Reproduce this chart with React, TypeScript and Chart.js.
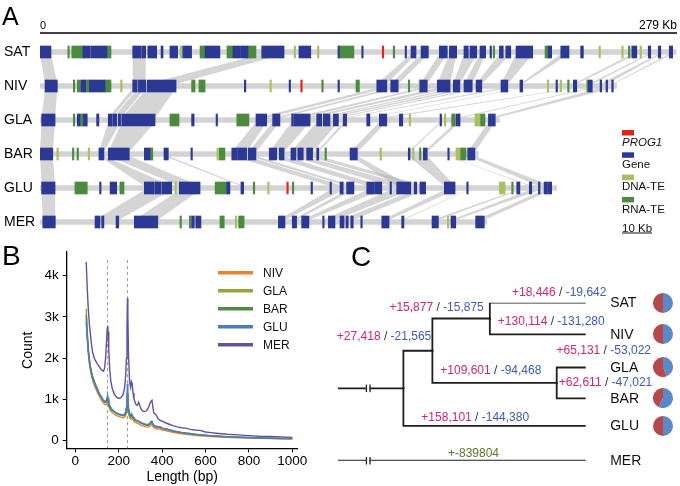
import React, { useEffect, useRef } from "react";
import { Chart, registerables } from "chart.js";

Chart.register(...registerables);

const FONT = "'Liberation Sans', Arial, Helvetica, sans-serif";

// ================= Panel A data =================
const trackNames = ["SAT", "NIV", "GLA", "BAR", "GLU", "MER"];
const trackEndKb = [278.6, 252.6, 201.2, 192.0, 226.3, 195.7];
const axisEndKb = 279;
const axisLabels = ["0", "279 Kb"];
const scaleBarLabel = "10 Kb";

type Seg = [number, number];
type Link = [number, number, number, number];

const geneSAT: Seg[] = [[0, 4.8], [18.8, 21.9], [22.2, 29.3], [40.6, 42.4], [42.6, 44.1], [44.5, 46.3], [47.2, 51.1], [53, 53.9], [56.9, 60.3], [62.5, 66.4], [72.3, 78.8], [84.5, 87.6], [87.8, 91.1], [97.1, 106.9], [113.4, 118.6], [130.5, 131], [140.9, 141.4], [159.9, 160.4], [162.5, 164.7], [166.9, 170.1], [174.9, 178.4], [179.3, 182.5], [185.7, 187.6], [188.3, 191.3], [192.7, 195.2], [197.1, 197.6], [201.2, 202.9], [204, 206.2], [208.5, 215.8], [222.6, 224.1], [228.1, 231.7], [236.8, 238], [259.2, 261.4], [266.4, 267.5], [270.8, 271.9], [275.6, 277.1]];
const dnaSAT: Seg[] = [[61.3, 62.1], [111.3, 111.8], [121.5, 122], [244.8, 245.3], [254.8, 255.3], [262.8, 263.3]];
const rnaSAT: Seg[] = [[12.2, 12.6], [13.9, 18.8], [29.3, 31.1], [70.1, 72.3], [81.9, 84.5], [91.1, 94.6], [131, 137.5], [154.7, 155.2], [198.5, 199], [221.2, 222.6], [257.7, 258.4]];
const progSAT: Seg[] = [[149.9, 150.5]];

const geneNIV: Seg[] = [[2.2, 7.6], [17.8, 20], [21.6, 28.5], [40.6, 42.6], [43.1, 46.3], [46.9, 59.6], [89.5, 89.9], [109.1, 109.5], [130.5, 131], [147.5, 151.9], [153.6, 156.9], [166.4, 169.6], [174, 179.6], [181, 183.9], [185.7, 189.3], [191, 193.5], [201.9, 204.9], [210.2, 211.4], [226, 226.4], [233.6, 235.1], [240.2, 241.9], [245.3, 246], [247.9, 248.6], [250.4, 251.1]];
const dnaNIV: Seg[] = [[35.3, 35.8], [100.7, 101.1], [166, 166.4], [222.2, 222.6], [227.8, 228.2]];
const rnaNIV: Seg[] = [[14.6, 15], [16.3, 17.5], [20, 21.6], [28.5, 31.1], [66.4, 67.9], [69.6, 72.3], [123.4, 123.8], [138.4, 139.9], [161.3, 161.8], [231.1, 231.6], [239.5, 240.2]];
const progNIV: Seg[] = [[114.2, 114.6]];

const geneGLA: Seg[] = [[0.7, 6.6], [16.3, 17.5], [19, 20.7], [24.8, 25.8], [29.9, 31.4], [31.8, 33.6], [34.3, 35.3], [35.8, 50.4], [66.4, 67.5], [77.1, 77.5], [94.6, 99.3], [101.9, 105.1], [110.2, 110.8], [111.1, 114.6], [114.9, 118.3], [121.2, 123.4], [124.1, 127], [128.5, 130.7], [132.8, 134.3], [143.1, 144.5], [148.6, 151.9], [157.4, 158.9], [175.2, 175.9], [182.2, 184], [196.4, 197.8], [198.1, 199.4]];
const dnaGLA: Seg[] = [[161.7, 162.1], [177.1, 177.5], [190.5, 192.7]];
const rnaGLA: Seg[] = [[14.6, 15], [17.5, 19], [56.9, 60.9], [86.2, 91.5], [180.3, 181.8], [192.7, 194.9]];
const progGLA: Seg[] = [];

const geneBAR: Seg[] = [[0, 5.6], [25.8, 28], [29.9, 39.1], [45.7, 48.2], [54.3, 56.2], [66.1, 66.5], [84, 86.2], [86.5, 90.5], [91.2, 94.6], [100.4, 103.7], [104.8, 106.9], [109.9, 112.1], [112.9, 115.3], [116.8, 119.4], [121.2, 122.1], [135.8, 139], [161.3, 162.1], [167.9, 169.6], [178.6, 179], [187.3, 190.5]];
const dnaBAR: Seg[] = [[7.4, 7.8], [21.1, 21.5], [77.5, 77.9], [148.9, 149.3], [163.2, 163.6], [182.2, 184]];
const rnaBAR: Seg[] = [[14.2, 14.6], [16.2, 16.6], [48.2, 49.4], [78.5, 81], [124.8, 125.2], [166.2, 166.6], [184, 186.6]];
const progBAR: Seg[] = [];

const geneGLU: Seg[] = [[0.7, 6.6], [26.1, 26.5], [30.7, 33.6], [45.7, 49.8], [50.2, 53], [53.4, 57.7], [61, 70.1], [81.8, 83.2], [88, 89.2], [118.7, 119.1], [127, 127.4], [131.4, 132.8], [134.3, 137.5], [143.1, 146.2], [146.5, 149.7], [153.3, 153.7], [156.2, 162.4], [163.9, 165], [166.4, 168.9], [177.1, 181.8], [186.9, 187.3], [208.8, 210.2], [214.3, 215.4], [218.3, 219], [220.8, 222.3], [222.6, 224.1]];
const dnaGLU: Seg[] = [[59.1, 59.6], [99.7, 100.1], [201.2, 203.7]];
const rnaGLU: Seg[] = [[15.3, 20.7], [35, 36.8], [76.7, 81.8], [93.4, 93.8], [110.5, 110.9], [206.6, 207]];
const progGLU: Seg[] = [[108.1, 108.5]];

const geneMER: Seg[] = [[1.2, 6.7], [24.1, 26.3], [27, 28], [33.3, 34.5], [41.3, 51.6], [66.4, 67.6], [68.2, 70.5], [104.4, 107.3], [110.5, 112.4], [114.6, 117.8], [123.8, 124.2], [126.3, 129.2], [131.4, 133.2], [134, 135], [136.1, 137.2], [140.5, 140.9], [149.7, 152.9], [158.4, 159.4], [171.7, 174.5], [180, 182.1], [190.8, 194.6]];
const dnaMER: Seg[] = [[85.5, 85.9], [178.4, 178.8]];
const rnaMER: Seg[] = [[61.3, 61.7], [65.4, 66.1], [78.8, 80.7], [87, 89.4]];
const progMER: Seg[] = [];

// synteny links between neighbouring tracks: [upperStart, upperEnd, lowerStart, lowerEnd] (Kb)
const linksSATtoNIV: Link[] = [[0, 4.8, 2.2, 7.6], [40.6, 46.3, 40.6, 46.3], [97.1, 106.9, 46.9, 59.6], [162.5, 164.7, 147.5, 151.9], [166.9, 170.1, 153.6, 156.9], [174.9, 178.4, 166.4, 169.6], [179.3, 182.5, 174, 179.6], [185.7, 191.3, 181, 183.9], [192.7, 195.2, 185.7, 189.3], [201.2, 206.2, 191, 193.5], [208.5, 215.8, 201.9, 204.9], [228.1, 231.7, 210.2, 211.4], [259.2, 261.4, 233.6, 235.1], [266.4, 267.5, 240.2, 241.9], [270.8, 271.9, 245.3, 248.6], [275.6, 277.1, 250.4, 251.1]];
const linksNIVtoGLA: Link[] = [[2.2, 7.6, 0.7, 6.6], [40.6, 42.6, 29.9, 31.4], [43.1, 46.3, 31.8, 35.3], [46.9, 59.6, 35.8, 50.4], [147.5, 151.9, 94.6, 99.3], [153.6, 156.9, 101.9, 105.1], [166.4, 169.6, 110.2, 114.6], [174, 179.6, 114.9, 118.3], [181, 183.9, 121.2, 123.4], [185.7, 189.3, 124.1, 127], [191, 193.5, 128.5, 130.7], [201.9, 204.9, 132.8, 134.3], [210.2, 211.4, 143.1, 144.5], [233.6, 235.1, 148.6, 151.9], [240.2, 241.9, 182.2, 184], [245.3, 251.1, 196.4, 199.4]];
const linksGLAtoBAR: Link[] = [[0.7, 6.6, 0, 5.6], [29.9, 35.3, 25.8, 28], [35.8, 50.4, 29.9, 39.1], [94.6, 99.3, 84, 90.5], [101.9, 105.1, 91.2, 94.6], [110.2, 118.3, 100.4, 106.9], [121.2, 130.7, 109.9, 119.4], [132.8, 134.3, 121.2, 122.1], [148.6, 151.9, 135.8, 139], [175.2, 175.9, 161.3, 162.1], [182.2, 184, 167.9, 169.6], [196.4, 199.4, 187.3, 190.5]];
const linksBARtoGLU: Link[] = [[0, 5.6, 0.7, 6.6], [25.8, 28, 45.7, 57.7], [29.9, 39.1, 61, 70.1], [54.3, 56.2, 88, 89.2], [84, 90.5, 127, 132.8], [91.2, 94.6, 134.3, 137.5], [100.4, 106.9, 143.1, 149.7], [109.9, 115.3, 153.3, 162.4], [116.8, 122.1, 163.9, 168.9], [135.8, 139, 156.2, 162.4], [161.3, 169.6, 177.1, 181.8], [178.6, 179, 214.3, 215.4], [187.3, 190.5, 218.3, 224.1]];
const linksGLUtoMER: Link[] = [[0.7, 6.6, 1.2, 6.7], [45.7, 57.7, 24.1, 34.5], [61, 70.1, 41.3, 51.6], [127, 132.8, 104.4, 107.3], [134.3, 137.5, 110.5, 112.4], [143.1, 149.7, 114.6, 117.8], [153.3, 162.4, 123.8, 129.2], [163.9, 168.9, 131.4, 137.2], [177.1, 181.8, 149.7, 152.9], [186.9, 187.3, 158.4, 159.4], [208.8, 210.2, 171.7, 174.5], [214.3, 219, 180, 182.1], [220.8, 224.1, 190.8, 194.6]];

const geneTracks = [geneSAT, geneNIV, geneGLA, geneBAR, geneGLU, geneMER];
const dnaTracks = [dnaSAT, dnaNIV, dnaGLA, dnaBAR, dnaGLU, dnaMER];
const rnaTracks = [rnaSAT, rnaNIV, rnaGLA, rnaBAR, rnaGLU, rnaMER];
const progTracks = [progSAT, progNIV, progGLA, progBAR, progGLU, progMER];
const linkSets = [linksSATtoNIV, linksNIVtoGLA, linksGLAtoBAR, linksBARtoGLU, linksGLUtoMER];

// ================= Panel B data =================
const seriesNames = ["NIV", "GLA", "BAR", "GLU", "MER"];
const lengthBp = [50, 55, 60, 65, 70, 75, 80, 90, 100, 110, 120, 130, 135, 140, 144, 147, 149, 151, 154, 158, 163, 170, 180, 190, 200, 210, 220, 227, 232, 235, 238, 240, 242, 245, 250, 255, 258, 262, 266, 270, 278, 285, 292, 298, 305, 315, 325, 335, 342, 348, 353, 357, 362, 368, 374, 380, 390, 400, 415, 430, 450, 470, 490, 510, 530, 550, 575, 600, 625, 650, 700, 750, 800, 850, 900, 950, 1000];
const countNIV = [2950, 2480, 2100, 1850, 1680, 1550, 1450, 1310, 1180, 1070, 980, 900, 875, 865, 880, 900, 905, 880, 830, 770, 720, 680, 640, 605, 585, 565, 550, 565, 600, 680, 830, 1000, 850, 660, 555, 520, 550, 535, 500, 470, 435, 415, 405, 385, 365, 350, 330, 325, 340, 375, 385, 345, 310, 295, 285, 275, 280, 255, 240, 222, 195, 178, 162, 150, 140, 128, 115, 105, 97, 88, 75, 66, 57, 50, 45, 41, 38];
const countGLA = [3200, 2620, 2220, 1960, 1780, 1650, 1550, 1400, 1270, 1150, 1060, 970, 940, 925, 960, 1000, 1010, 980, 905, 835, 785, 735, 695, 660, 635, 620, 605, 620, 665, 755, 920, 1120, 940, 735, 615, 580, 615, 600, 560, 530, 490, 470, 458, 438, 418, 398, 378, 372, 392, 430, 445, 398, 358, 338, 328, 318, 335, 298, 278, 258, 228, 208, 190, 174, 164, 150, 135, 124, 114, 104, 89, 79, 69, 60, 54, 49, 45];
const countBAR = [3050, 2550, 2180, 1930, 1760, 1630, 1530, 1390, 1260, 1140, 1050, 960, 930, 920, 950, 990, 1000, 970, 900, 830, 780, 730, 690, 655, 630, 615, 600, 615, 660, 750, 930, 1150, 950, 740, 610, 575, 610, 595, 555, 525, 485, 465, 455, 435, 415, 395, 375, 370, 390, 425, 440, 395, 355, 335, 325, 315, 330, 295, 275, 255, 225, 205, 188, 172, 162, 148, 133, 122, 112, 102, 88, 78, 68, 59, 53, 48, 44];
const countGLU = [2880, 2450, 2120, 1880, 1720, 1600, 1500, 1360, 1240, 1130, 1040, 970, 950, 950, 1000, 1060, 1080, 1030, 950, 860, 800, 750, 700, 670, 645, 630, 615, 640, 700, 800, 1050, 1380, 1100, 800, 640, 600, 650, 620, 570, 540, 500, 480, 470, 450, 430, 410, 395, 390, 410, 460, 470, 410, 370, 350, 345, 330, 315, 300, 285, 265, 235, 215, 195, 180, 170, 155, 140, 128, 118, 108, 93, 82, 72, 62, 56, 51, 47];
const countMER = [4330, 3650, 3150, 2800, 2550, 2300, 2120, 1960, 1870, 1790, 1710, 1680, 1760, 2050, 2450, 2730, 2790, 2640, 2200, 1760, 1460, 1260, 1120, 1050, 1020, 1040, 1110, 1280, 1580, 1980, 2750, 3450, 3050, 2050, 1420, 1290, 1430, 1380, 1150, 1010, 880, 850, 930, 830, 740, 700, 710, 770, 870, 950, 975, 820, 660, 640, 610, 530, 490, 470, 430, 400, 360, 330, 310, 300, 270, 255, 245, 205, 190, 175, 150, 135, 118, 102, 96, 86, 76];
const seriesValues = [countNIV, countGLA, countBAR, countGLU, countMER];
const xTickValues = [0, 200, 400, 600, 800, 1000];
const yTickValues = [0, 1000, 2000, 3000, 4000];
const yTickLabels = ["0", "1k", "2k", "3k", "4k"];
const markerLengths = [148, 240];

// ================= Panel C data =================
const treeNodes = ["root", "n1", "n2", "nSN", "nGB", "SAT", "NIV", "GLA", "BAR", "GLU", "MER"];
const treeParent = [-1, 0, 1, 2, 2, 3, 3, 4, 4, 1, 0];
const treeDepth = [0, 26.4, 38.1, 61.3, 88.3, 100, 100, 100, 100, 100, 100];
const leafNames = ["SAT", "NIV", "GLA", "BAR", "GLU", "MER"];
const branchOf = ["n2", "nSN", "nGB", "SAT", "NIV", "GLA", "BAR", "GLU"];
const branchGain = [27418, 15877, 109601, 18446, 130114, 65131, 62611, 158101];
const branchLoss = [21565, 15875, 94468, 19642, 131280, 53022, 47021, 144380];
const merLabel = "+-839804";
const pieLeaves = ["SAT", "NIV", "GLA", "BAR", "GLU"];
const pieBlue = [50, 50, 44, 57, 50];
const pieRed = [50, 50, 56, 43, 50];

// ================= Layout (not data) =================
const leafRow = [0, 1, 2.05, 3.03, 3.9, 5];
const branchLabelAt: [number, number][] = [[18.6, 1.08], [39.8, 0.17], [61.7, 2.15], [89.3, -0.32], [86.1, 0.61], [107.3, 1.53], [108, 2.52], [55.4, 3.64]];
const merLabelAt: [number, number] = [54.7, 4.77];
const breakAtDepth = 12.2;
const C_TOP = 240, C_LEFT = 330;
const C_ROW0 = 302.7, C_ROWH = 31.6;

const GENE = "#2b3995";
const DNA = "#a9c060";
const RNA = "#4c8a40";
const PROG = "#e0231f";
const LINE_COLORS = ["#e8822c", "#93a83a", "#4f8c42", "#4a7dc4", "#6650a2"];
const GAIN = "#d4246c";
const LOSS = "#3d5cb3";

function toBars(perTrack: Seg[][]) {
  const out: any[] = [];
  perTrack.forEach((segs, i) => segs.forEach((s) => out.push({ x: s, y: trackNames[i] })));
  return out;
}

const panelAPlugin = {
  id: "panelA",
  beforeDatasetsDraw(chart: any) {
    const { ctx, scales } = chart;
    const x = scales.x, y = scales.y;
    ctx.save();
    ctx.fillStyle = "rgba(178,178,178,0.55)";
    linkSets.forEach((links, i) => {
      const yU = y.getPixelForValue(i) + 2;
      const yL = y.getPixelForValue(i + 1) - 2;
      links.forEach(([a0, a1, b0, b1]) => {
        ctx.beginPath();
        ctx.moveTo(x.getPixelForValue(a0), yU);
        ctx.lineTo(x.getPixelForValue(a1), yU);
        ctx.lineTo(x.getPixelForValue(b1), yL);
        ctx.lineTo(x.getPixelForValue(b0), yL);
        ctx.closePath();
        ctx.fill();
      });
    });
    ctx.restore();
  },
  afterDraw(chart: any) {
    const { ctx, scales } = chart;
    const x = scales.x, y = scales.y;
    ctx.save();
    ctx.fillStyle = "#000";
    ctx.font = `25px ${FONT}`;
    ctx.textBaseline = "alphabetic";
    ctx.textAlign = "left";
    ctx.fillText("A", 2, 25);
    ctx.strokeStyle = "#000";
    ctx.lineWidth = 1.5;
    ctx.beginPath();
    ctx.moveTo(x.getPixelForValue(0), 33);
    ctx.lineTo(x.getPixelForValue(axisEndKb), 33);
    ctx.stroke();
    ctx.font = `11px ${FONT}`;
    ctx.fillText(axisLabels[0], x.getPixelForValue(0), 29);
    ctx.textAlign = "right";
    ctx.font = `12px ${FONT}`;
    ctx.fillText(axisLabels[1], x.getPixelForValue(axisEndKb), 29);
    ctx.textAlign = "left";
    ctx.textBaseline = "middle";
    ctx.font = `14px ${FONT}`;
    trackNames.forEach((n, i) => ctx.fillText(n, 4, y.getPixelForValue(i) + 0.5));
    const lx = 622;
    chart.data.datasets.slice(0, 4).forEach((ds: any, k: number) => {
      const top = 130 + k * 22.3;
      ctx.fillStyle = ds.backgroundColor;
      ctx.fillRect(lx, top, 12, 5.5);
      ctx.fillStyle = "#111";
      ctx.font = `${k === 0 ? "italic " : ""}11.5px ${FONT}`;
      ctx.fillText(ds.label, lx, top + 12.5);
    });
    ctx.font = `11.5px ${FONT}`;
    ctx.fillText(scaleBarLabel, lx, 228.5);
    const w = ctx.measureText(scaleBarLabel).width;
    ctx.strokeStyle = "#111";
    ctx.lineWidth = 1;
    ctx.beginPath();
    ctx.moveTo(lx, 233);
    ctx.lineTo(lx + w, 233);
    ctx.stroke();
    ctx.restore();
  },
};

const panelBPlugin = {
  id: "panelB",
  beforeDatasetsDraw(chart: any) {
    const { ctx, scales, chartArea } = chart;
    ctx.save();
    ctx.strokeStyle = "#9a9a9a";
    ctx.lineWidth = 1;
    ctx.setLineDash([3, 3]);
    markerLengths.forEach((v) => {
      const px = Math.round(scales.x.getPixelForValue(v)) + 0.5;
      ctx.beginPath();
      ctx.moveTo(px, chartArea.top + 8);
      ctx.lineTo(px, chartArea.bottom);
      ctx.stroke();
    });
    ctx.restore();
  },
  afterDraw(chart: any) {
    const { ctx } = chart;
    ctx.save();
    ctx.fillStyle = "#000";
    ctx.font = `28px ${FONT}`;
    ctx.textBaseline = "alphabetic";
    ctx.fillText("B", 2, 25);
    chart.data.datasets.forEach((ds: any, k: number) => {
      const yy = 32.7 + k * 18;
      ctx.strokeStyle = ds.borderColor;
      ctx.lineWidth = 3.5;
      ctx.beginPath();
      ctx.moveTo(218, yy);
      ctx.lineTo(253, yy);
      ctx.stroke();
      ctx.fillStyle = "#111";
      ctx.font = `12px ${FONT}`;
      ctx.textBaseline = "middle";
      ctx.fillText(ds.label, 263, yy + 0.5);
    });
    ctx.restore();
  },
};

function nodeRows() {
  const rows: number[] = new Array(treeNodes.length).fill(NaN);
  leafNames.forEach((n, i) => (rows[treeNodes.indexOf(n)] = leafRow[i]));
  for (let i = treeNodes.length - 1; i >= 0; i--) {
    if (!isNaN(rows[i])) continue;
    const kids = treeParent.map((p, j) => (p === i ? rows[j] : NaN)).filter((v) => !isNaN(v));
    rows[i] = kids.reduce((a, b) => a + b, 0) / kids.length;
  }
  return rows;
}

function drawSplitLabel(ctx: any, cx: number, cy: number, gain: number, loss: number) {
  const g = "+" + gain.toLocaleString("en-US");
  const s = " / ";
  const l = "-" + loss.toLocaleString("en-US");
  const wg = ctx.measureText(g).width, ws = ctx.measureText(s).width, wl = ctx.measureText(l).width;
  let x0 = cx - (wg + ws + wl) / 2;
  ctx.fillStyle = GAIN; ctx.fillText(g, x0, cy); x0 += wg;
  ctx.fillStyle = "#333"; ctx.fillText(s, x0, cy); x0 += ws;
  ctx.fillStyle = LOSS; ctx.fillText(l, x0, cy);
}

const panelCPlugin = {
  id: "panelC",
  afterDatasetsDraw(chart: any) {
    const { ctx, scales } = chart;
    const x = scales.x, y = scales.y;
    const rows = nodeRows();
    ctx.save();
    [treeNodes.indexOf("n1"), treeNodes.indexOf("MER")].forEach((ni) => {
      const px = x.getPixelForValue(breakAtDepth);
      const py = y.getPixelForValue(rows[ni]);
      ctx.fillStyle = "#fff";
      ctx.fillRect(px - 1.2, py - 2, 2.4, 4);
      ctx.strokeStyle = "#222";
      ctx.lineWidth = 1.3;
      [-1.8, 1.8].forEach((d) => {
        ctx.beginPath();
        ctx.moveTo(px + d, py - 3.8);
        ctx.lineTo(px + d, py + 3.8);
        ctx.stroke();
      });
    });
    ctx.textBaseline = "middle";
    ctx.textAlign = "left";
    ctx.font = `14px ${FONT}`;
    ctx.fillStyle = "#111";
    leafNames.forEach((n, i) => ctx.fillText(n, x.getPixelForValue(100) + 24.5, y.getPixelForValue(leafRow[i]) + 0.5));
    ctx.font = `12px ${FONT}`;
    branchOf.forEach((b, i) => {
      const [bx, by] = branchLabelAt[i];
      drawSplitLabel(ctx, x.getPixelForValue(bx), y.getPixelForValue(by), branchGain[i], branchLoss[i]);
    });
    ctx.fillStyle = "#557a25";
    ctx.textAlign = "center";
    ctx.fillText(merLabel, x.getPixelForValue(merLabelAt[0]), y.getPixelForValue(merLabelAt[1]));
    ctx.textAlign = "left";
    ctx.fillStyle = "#000";
    ctx.font = `28px ${FONT}`;
    ctx.textBaseline = "alphabetic";
    ctx.fillText("C", 21, 26);
    ctx.restore();
  },
};

export default function App() {
  const refA = useRef<HTMLCanvasElement>(null);
  const refB = useRef<HTMLCanvasElement>(null);
  const refC = useRef<HTMLCanvasElement>(null);
  const pieRefs = useRef<(HTMLCanvasElement | null)[]>([]);

  useEffect(() => {
    const charts: Chart[] = [];
    const common = { animation: false, responsive: false, devicePixelRatio: 1, events: [] as any[] };

    const featDs = (label: string, tracks: Seg[][], color: string, order: number) => ({
      label, data: toBars(tracks), backgroundColor: color, barThickness: 12, grouped: false,
      minBarLength: 1.5, borderWidth: 0, order,
    });
    charts.push(new Chart(refA.current!, {
      type: "bar",
      data: {
        labels: trackNames,
        datasets: [
          featDs("PROG1", progTracks, PROG, 1),
          featDs("Gene", geneTracks, GENE, 2),
          featDs("DNA-TE", dnaTracks, DNA, 3),
          featDs("RNA-TE", rnaTracks, RNA, 4),
          { label: "backbone", data: trackEndKb.map((e, i) => ({ x: [0, e], y: trackNames[i] })), backgroundColor: "#d3d3d3", barThickness: 5, grouped: false, borderWidth: 0, order: 10 },
        ],
      },
      options: {
        ...common,
        indexAxis: "y",
        layout: { padding: { left: 40, right: 3, top: 35, bottom: 1 } },
        scales: {
          x: { type: "linear", min: 0, max: axisEndKb, display: false },
          y: { type: "category", display: false, offset: true },
        },
        plugins: { legend: { display: false }, tooltip: { enabled: false } },
      } as any,
      plugins: [panelAPlugin],
    } as any));

    charts.push(new Chart(refB.current!, {
      type: "line",
      data: {
        datasets: seriesNames.map((name, i) => ({
          label: name,
          data: lengthBp.map((bp, j) => ({ x: bp, y: seriesValues[i][j] })),
          borderColor: LINE_COLORS[i],
          borderWidth: 1.4,
          pointRadius: 0,
          tension: 0,
          fill: false,
          order: seriesNames.length - i,
        })),
      },
      options: {
        ...common,
        layout: { padding: { left: 0, top: 2, right: 32.3, bottom: 0 } },
        scales: {
          x: {
            type: "linear", min: -40, max: 1025,
            afterBuildTicks: (ax: any) => { ax.ticks = xTickValues.map((v) => ({ value: v })); },
            afterFit: (s: any) => { s.height = 37.7; },
            grid: { display: true, drawOnChartArea: false, drawTicks: true, tickLength: 4, color: "#000" },
            border: { display: true, color: "#000", width: 1.3 },
            ticks: { font: { family: FONT, size: 13.5 }, color: "#000", padding: 1, maxRotation: 0, callback: (v: any) => String(v) },
            title: { display: true, text: "Length (bp)", font: { family: FONT, size: 14 }, color: "#000", padding: { top: 0, bottom: 0 } },
          },
          y: {
            type: "linear", min: -190, max: 4570,
            afterBuildTicks: (ax: any) => { ax.ticks = yTickValues.map((v) => ({ value: v })); },
            afterFit: (s: any) => { s.width = 66.7; },
            grid: { display: true, drawOnChartArea: false, drawTicks: true, tickLength: 4, color: "#000" },
            border: { display: true, color: "#000", width: 1.3 },
            ticks: { font: { family: FONT, size: 13.5 }, color: "#000", padding: 4, callback: (_v: any, i: number) => yTickLabels[i] },
            title: { display: true, text: "Count", font: { family: FONT, size: 14 }, color: "#000", padding: { top: 19.5, bottom: 0 } },
          },
        },
        plugins: { legend: { display: false }, tooltip: { enabled: false } },
      } as any,
      plugins: [panelBPlugin],
    } as any));

    // tree: each branch drawn as an elbow from its parent node (root branches have no vertical stem)
    const rows = nodeRows();
    const edges = treeParent
      .map((p, i) => {
        if (p < 0) return null;
        const pts = treeParent[p] < 0
          ? [{ x: treeDepth[p], y: rows[i] }, { x: treeDepth[i], y: rows[i] }]
          : [{ x: treeDepth[p], y: rows[p] }, { x: treeDepth[p], y: rows[i] }, { x: treeDepth[i], y: rows[i] }];
        return {
          label: treeNodes[i], data: pts,
          showLine: true, borderColor: "#1e1e1e", borderWidth: 1.8, pointRadius: 0, tension: 0, fill: false,
          borderCapStyle: "square",
        };
      })
      .filter(Boolean);
    const cAreaTop = C_ROW0 - C_TOP;
    const cAreaBottom = C_ROW0 + 5 * C_ROWH - C_TOP;
    charts.push(new Chart(refC.current!, {
      type: "scatter",
      data: { datasets: edges as any },
      options: {
        ...common,
        layout: { padding: { left: 8, right: 350 - 255.7, top: cAreaTop, bottom: 246 - cAreaBottom } },
        scales: {
          x: { type: "linear", min: 0, max: 100, display: false },
          y: { type: "linear", min: 0, max: 5, reverse: true, display: false },
        },
        plugins: { legend: { display: false }, tooltip: { enabled: false } },
      } as any,
      plugins: [panelCPlugin],
    } as any));

    pieLeaves.forEach((_n, i) => {
      const cv = pieRefs.current[i];
      if (!cv) return;
      charts.push(new Chart(cv, {
        type: "pie",
        data: { labels: ["loss", "gain"], datasets: [{ data: [pieBlue[i], pieRed[i]], backgroundColor: ["#5b88c7", "#b4494c"], borderWidth: 0 }] },
        options: { ...common, layout: { padding: 0 }, plugins: { legend: { display: false }, tooltip: { enabled: false } } } as any,
      } as any));
    });

    return () => charts.forEach((c) => c.destroy());
  }, []);

  const abs = (l: number, t: number, w: number, h: number) => ({ position: "absolute" as const, left: l, top: t, width: w, height: h });

  return (
    <div style={{ position: "absolute", left: 0, top: 0, width: 680, height: 486, background: "#fff", overflow: "hidden" }}>
      <canvas ref={refA} width={680} height={240} style={abs(0, 0, 680, 240)} />
      <canvas ref={refB} width={330} height={246} style={abs(0, 240, 330, 246)} />
      <canvas ref={refC} width={350} height={246} style={abs(C_LEFT, C_TOP, 350, 246)} />
      {pieLeaves.map((n, i) => {
        const cy = C_ROW0 + leafRow[i] * C_ROWH;
        return (
          <canvas key={n} ref={(el) => { pieRefs.current[i] = el; }} width={20} height={20} style={abs(653.3, cy - 10, 20, 20)} />
        );
      })}
    </div>
  );
}
